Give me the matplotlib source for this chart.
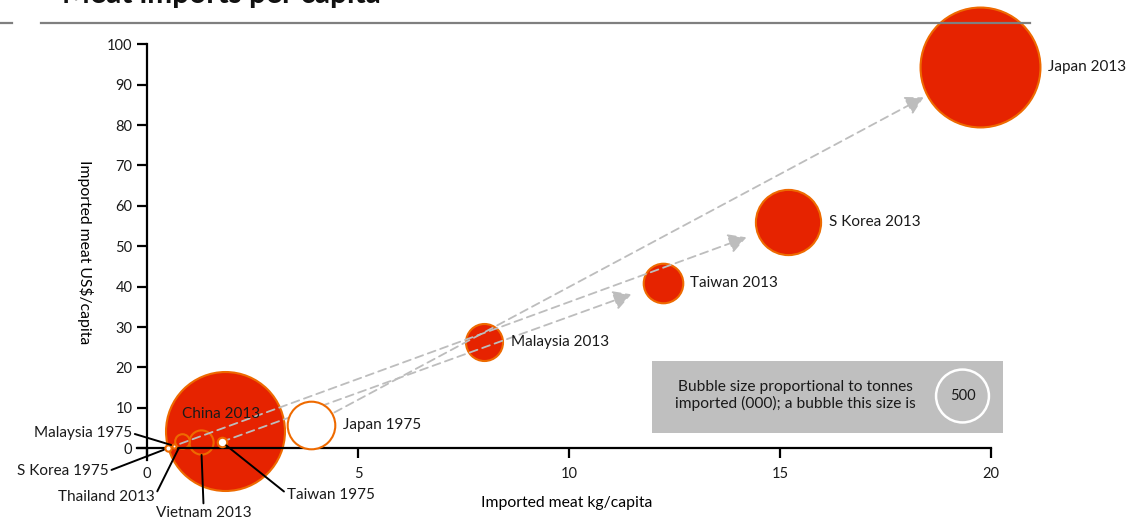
import matplotlib
matplotlib.use("Agg")
import matplotlib.pyplot as plt
from matplotlib.lines import Line2D
from matplotlib.patches import Rectangle
import numpy as np

# ---- data -------------------------------------------------------------
countries = ["China", "Japan", "S Korea", "Taiwan", "Malaysia", "Vietnam",
             "Thailand", "Japan", "Taiwan", "S Korea", "Malaysia"]
years = [2013, 2013, 2013, 2013, 2013, 2013, 2013, 1975, 1975, 1975, 1975]
kg_per_capita = [1.84, 19.75, 15.20, 12.22, 7.99, 1.28, 0.84, 3.89, 1.77, 0.49, 0.64]
usd_per_capita = [4.4, 94.4, 56.0, 40.9, 26.2, 1.6, 1.9, 5.8, 1.6, 0.0, 0.6]
tonnes_000 = [2530, 2570, 760, 280, 245, 105, 38, 405, 16, 7, 3]

# 1975 -> 2013 paths
arrow_countries = ["Japan", "S Korea", "Taiwan"]
arrow_gap_pt = [2.5, 8.0, 9.0]

legend_tonnes = 500

xticks = [0, 5, 10, 15, 20]
yticks = list(range(0, 101, 10))

# ---- style ------------------------------------------------------------
W, H, DPI = 1126, 523, 100
RED = "#E62300"
ORANGE = "#EE6A00"
ARROW = "#BDBDBD"
TXT = "#1a1a1a"
SIZE_K = 2.9      # marker area (pt^2) per thousand tonnes
EDGE_LW = 1.5
FONT = "Lato"
LABEL_FS = 11

plt.rcParams["font.family"] = [FONT, "DejaVu Sans"]
plt.rcParams["text.color"] = TXT


def px(x, y):
    """pixel position (from top-left) -> figure fraction"""
    return x / W, 1 - y / H


def outer_radius_pt(t):
    return np.sqrt(SIZE_K * t) / 2 + EDGE_LW / 2


fig = plt.figure(figsize=(W / DPI, H / DPI), dpi=DPI)
ax_l, ax_r, ax_t, ax_b = 136.5, 991.0, 44.3, 460.0
ax = fig.add_axes([ax_l / W, 1 - ax_b / H, (ax_r - ax_l) / W, (ax_b - ax_t) / H])
ax.set_xlim(-0.25, 20)
ax.set_ylim(-2.9, 100)

for side in ("top", "right"):
    ax.spines[side].set_visible(False)
for side in ("left", "bottom"):
    ax.spines[side].set_position(("data", 0))
    ax.spines[side].set_linewidth(1.6)
    ax.spines[side].set_color("black")

ax.set_xticks(xticks)
ax.set_yticks(yticks)
ax.tick_params(axis="both", direction="out", length=7.5, width=1.6,
               colors="black", labelcolor=TXT, labelsize=10.5)
ax.tick_params(axis="y", pad=3)
ax.tick_params(axis="x", pad=6)

ax.set_xlabel("Imported meat kg/capita", fontsize=11.3, va="center")
ax.xaxis.set_label_coords((567 - ax_l) / (ax_r - ax_l), (ax_b - 503) / (ax_b - ax_t))
ax.set_ylabel("Imported meat US$/capita", fontsize=11.3, rotation=-90,
              va="center", ha="center")
ax.yaxis.set_label_coords((85 - ax_l) / (ax_r - ax_l), (ax_b - 251.7) / (ax_b - ax_t))

# ---- bubbles ----------------------------------------------------------
order = np.argsort(tonnes_000)[::-1]
for i in order:
    new = years[i] == 2013
    ax.scatter(kg_per_capita[i], usd_per_capita[i], s=SIZE_K * tonnes_000[i],
               facecolor=RED if new else "white", edgecolor=ORANGE,
               linewidth=EDGE_LW, zorder=2 if new else 4, clip_on=False)


def idx(country, year):
    for i, (c, y) in enumerate(zip(countries, years)):
        if c == country and y == year:
            return i


# ---- arrows 1975 -> 2013 ---------------------------------------------
for c, gap in zip(arrow_countries, arrow_gap_pt):
    a, b = idx(c, 1975), idx(c, 2013)
    ax.annotate("", xy=(kg_per_capita[b], usd_per_capita[b]),
                xytext=(kg_per_capita[a], usd_per_capita[a]),
                arrowprops=dict(arrowstyle="-|>,head_length=0.9,head_width=0.5",
                                mutation_scale=12, color=ARROW, lw=1.3,
                                linestyle=(0, (4.5, 2.8)), shrinkA=0,
                                shrinkB=outer_radius_pt(tonnes_000[b]) + gap),
                zorder=3, annotation_clip=False)

# ---- labels to the right of the bubble --------------------------------
for c, y in [("Japan", 2013), ("S Korea", 2013), ("Taiwan", 2013),
             ("Malaysia", 2013), ("Japan", 1975)]:
    i = idx(c, y)
    ax.annotate(f"{c} {y}", xy=(kg_per_capita[i], usd_per_capita[i]),
                xytext=(outer_radius_pt(tonnes_000[i]) + 5, 0),
                textcoords="offset points", ha="left", va="center",
                fontsize=LABEL_FS, zorder=6, annotation_clip=False)

i = idx("China", 2013)
ax.annotate("China 2013", xy=(kg_per_capita[i], usd_per_capita[i]),
            xytext=(-3.7, 16.5), textcoords="offset pixels",
            ha="center", va="center", fontsize=LABEL_FS, zorder=6,
            annotation_clip=False)

# ---- labels with leader lines -----------------------------------------
leaders = [
    (("Malaysia", 1975), (-42, 12.7), "right", "center", (1, 0.5)),
    (("S Korea", 1975), (-59, -22.7), "right", "center", (1, 0.5)),
    (("Thailand", 2013), (-28, -56.3), "right", "center", (1, 0.5)),
    (("Vietnam", 2013), (2.5, -71.3), "center", "center", (0.5, 1)),
    (("Taiwan", 1975), (65, -53.3), "left", "center", (0, 0.6)),
]
for (c, y), off, ha, va, rel in leaders:
    i = idx(c, y)
    ax.annotate(f"{c} {y}", xy=(kg_per_capita[i], usd_per_capita[i]),
                xytext=off, textcoords="offset pixels", ha=ha, va=va,
                fontsize=LABEL_FS, zorder=6, annotation_clip=False,
                arrowprops=dict(arrowstyle="-", color="black", lw=1.4,
                                shrinkA=0, shrinkB=outer_radius_pt(tonnes_000[i]),
                                relpos=rel))

# ---- size key ---------------------------------------------------------
x0, y0 = px(652, 433)
x1, y1 = px(1003, 361)
ax.add_patch(Rectangle((x0, y0), x1 - x0, y1 - y0, transform=fig.transFigure,
                       facecolor="#BFBFBF", edgecolor="none", zorder=7,
                       clip_on=False))
ax.text(*px(795, 395.5), "Bubble size proportional to tonnes\nimported (000); a bubble this size is",
        transform=fig.transFigure, ha="center", va="center", fontsize=11.2,
        linespacing=1.22, zorder=8)
ax.scatter(*px(962.5, 396), s=SIZE_K * legend_tonnes, facecolor="none",
           edgecolor="white", linewidth=1.8, transform=fig.transFigure,
           clip_on=False, zorder=8)
ax.text(*px(962.5, 396), f"{legend_tonnes}", transform=fig.transFigure,
        ha="center", va="center", fontsize=10.5, zorder=9)

# ---- header -----------------------------------------------------------
fig.text(*px(61.7, 3), "Meat imports per capita", fontsize=21.5, fontweight="bold",
         ha="left", va="baseline", color="#111111")
for xa, xb in [(0, 12), (41, 1030)]:
    fig.lines.append(Line2D([xa / W, xb / W], [1 - 23 / H, 1 - 23 / H],
                            transform=fig.transFigure, color="#7F7F7F", lw=1.6))

fig.savefig("out.png", dpi=DPI)
